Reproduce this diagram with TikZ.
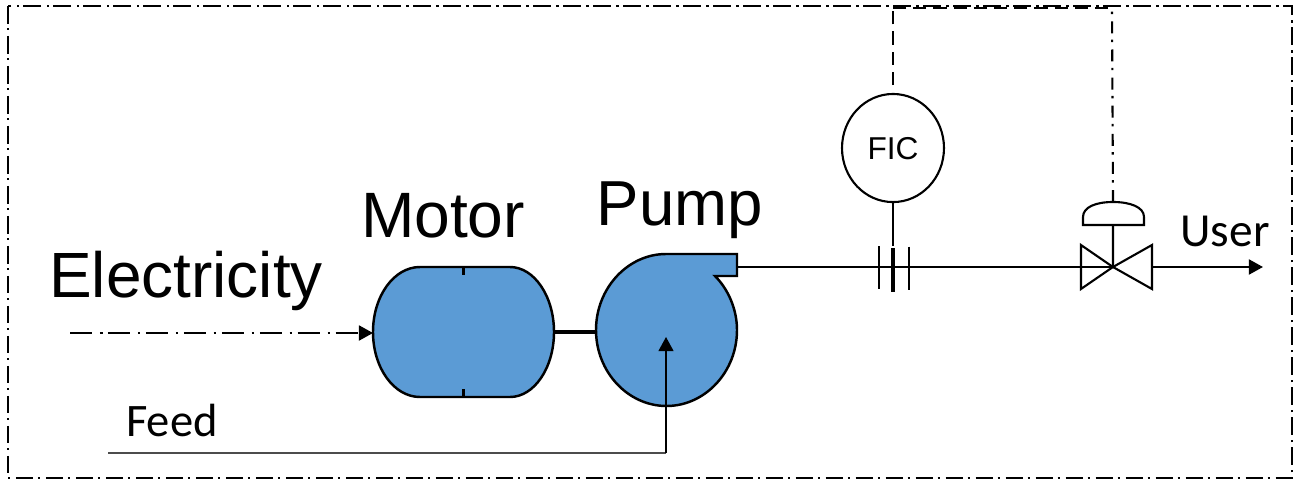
\documentclass[tikz,border=0pt]{standalone}
\usepackage{fontspec}
\setmainfont{Liberation Sans}
\newfontfamily\labelfont{Carlito}
\usetikzlibrary{positioning,arrows.meta}
\definecolor{bodyblue}{HTML}{5B9BD5}

\tikzset{
  blank/.style={inner sep=0pt,outer sep=0pt},
  bigtext/.style={blank,font=\fontsize{#1}{#1}\selectfont},
  smalltext/.style={blank,font=\labelfont\fontsize{#1}{#1}\selectfont},
  outline/.style={draw=black,line width=1.4pt,fill=bodyblue},
  pipe/.style={line width=1.2pt},
  boundary/.style={line width=1.2pt,dash pattern=on 10pt off 2.6pt on 1.3pt off 3.17pt},
  power/.style={line width=1.2pt,dash pattern=on 12.5pt off 4.5pt on 1.5pt off 3.1pt},
  signal/.style={line width=1.2pt,dash pattern=on 7.5pt off 4pt},
  valvesignal/.style={line width=1.2pt,dash pattern=on 6.8pt off 4.2pt on 1.4pt off 3.6pt},
}

\begin{document}
\begin{tikzpicture}[x=0.02cm,y=-0.02cm,on grid,>={Triangle[length=8pt,width=8.5pt]}]
   \useasboundingbox (0,0) rectangle (1298,480);

   \node[blank, minimum width=3.62cm, minimum height=2.6cm] (motor) at (463.5,332) {};
   \node[blank, minimum width=2.82cm, minimum height=3.04cm] (pump) [above right=0.04cm and 4.06cm of motor] {};
   \node[blank, minimum height=0.86cm] (orifice) at (893,267) {};
   \node[draw, circle, line width=1.2pt, inner sep=0pt, minimum size=2.04cm, yscale=1.06] (fic) [above=2.38cm of orifice] {};
   \node[blank, font=\fontsize{18}{18}\selectfont, yshift=-0.02cm] (ficlabel) at (fic) {FIC};
   \coordinate[right=4.4cm of orifice] (valve);
   \coordinate (actuator) at (1113,225);
   \coordinate (actuatortop) at (1113,202);
   \coordinate (pipeout) at (737,267);
   \coordinate (user) at (1263,267);
   \coordinate (feedin) at (108,453);
   \coordinate (feedcorner) at (666,453);
   \coordinate (feedend) at (666,337);
   \coordinate (powerin) at (70,333);
   \coordinate (powerend) at (motor.west |- powerin);
   \coordinate (signalleft) at (893,8);
   \coordinate (signalright) at (1112,8);
   \coordinate (ficdash) at (893,85);

   % outer boundary
   \draw[boundary] (8,6) rectangle (1292,478);

   % motor
   \draw[outline] (420,267) -- (510,267)
     .. controls (534,267) and (554,296) .. (554,332)
     .. controls (554,368) and (534,397) .. (510,397) -- (420,397)
     .. controls (394,397) and (373,368) .. (373,332)
     .. controls (373,296) and (394,267) .. (420,267) -- cycle;
   \draw[line width=1.4pt] (motor.north) -- ++(0,8);
   \draw[line width=1.4pt] (motor.south) -- ++(0,-8);

   % pump
   \draw[outline] (666,254) -- (737,254) -- (737,276) -- (715,276)
     .. controls (728,289) and (737,309) .. (737,330)
     .. controls (737,372) and (705,406) .. (666.5,406)
     .. controls (628,406) and (596,372) .. (596,330)
     .. controls (596,288) and (628,254) .. (666,254) -- cycle;
   \draw[line width=2.4pt] (motor.east |- 0,332) -- (pump.west |- 0,332);

   % lines in and out
   \draw[power,->] (powerin) -- (powerend);
   \draw[line width=0.8pt,draw=black!70] (feedin) -- (feedcorner);
   \draw[line width=0.8pt,->] (feedcorner) -- (feedend);
   \draw[pipe] (pipeout) -- (valve);
   \draw[pipe,->] (1152,267) -- (user);

   % orifice plate
   \draw[pipe] (orifice.north) ++(-14,0.5) -- ++(0,43);
   \draw[pipe] (orifice.north) ++(16,1) -- ++(0,43);
   \draw[line width=2.8pt] (orifice.north) ++(0,2.5) -- ++(0,44);
   \draw[pipe] (fic) -- (orifice.north);

   % control valve
   \draw[pipe] (valve) -- ++(-32,-22) -- ++(0,44) -- cycle;
   \draw[pipe] (valve) -- ++(39,-22) -- ++(0,44) -- cycle;
   \draw[pipe] (valve) -- (actuator);
   \draw[pipe] (1083,225) -- (1144,225) -- (1144,217)
     .. controls (1144,207) and (1130,202) .. (1113,202)
     .. controls (1096,202) and (1083,207) .. (1083,217) -- cycle;

   % signal lines
   \draw[signal] (ficdash) -- (signalleft);
   \draw[signal] (signalleft) -- (signalright);
   \draw[valvesignal] (actuatortop) -- (signalright);

   \node[bigtext=36.4] (electricity) at (186,281) {Electricity};
   \node[bigtext=36.5] (motorlabel) at (443,216) {Motor};
   \node[bigtext=36.2] (pumplabel) at (680,210) {Pump};
   \node[smalltext=27] (userlabel) at (1225,231) {User};
   \node[smalltext=26.5] (feedlabel) at (172,420) {Feed};
\end{tikzpicture}
\end{document}
